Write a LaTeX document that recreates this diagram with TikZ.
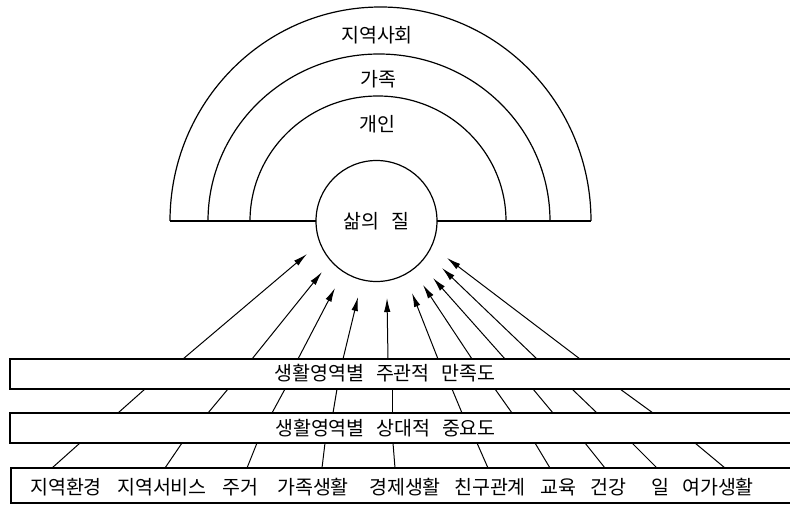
\documentclass[tikz,border=0pt]{standalone}
\usepackage{fontspec}
\newfontfamily\kr{Noto Sans CJK KR}
\usetikzlibrary{arrows.meta}
\begin{document}
\begin{tikzpicture}[x=1pt,y=1pt,
  every node/.style={font=\kr\fontsize{19.5}{21}\selectfont, inner sep=0pt, outer sep=0pt},
  ln/.style={line width=1pt},
  arcline/.style={line width=1.2pt},
  barbox/.style={draw, line width=1.1pt, anchor=south west, minimum width=800pt},
  arr/.style={line width=1pt, -{Latex[length=14pt,width=6.5pt]}}]
\useasboundingbox (0,0) rectangle (790,504);
% rings
\draw[arcline] (170,283) arc[start angle=180, end angle=0, x radius=210.5, y radius=214];
\draw[arcline] (208,283) arc[start angle=180, end angle=0, x radius=171, y radius=167];
\draw[arcline] (250,283) arc[start angle=180, end angle=0, x radius=128, y radius=125];
\node[draw, circle, line width=1.2pt, minimum size=121pt] (q) at (376.5,283) {삶의\hspace{0.6em}질};
\draw[arcline] (170,283) -- (q.west);
\draw[arcline] (q.east) -- (591,283);
\node (l1) at (377,469) {지역사회};
\node (l2) at (378,425) {가족};
\node (l3) at (377,380) {개인};
% bars
\node[barbox, minimum height=30pt] (b1) at (10,115) {};
\node[barbox, minimum height=30pt] (b2) at (10,61) {};
\node[barbox, minimum height=35pt] (b3) at (11,1) {};
\node (t1) at (385,131) {생활영역별\hspace{0.6em}주관적\hspace{0.6em}만족도};
\node (t2) at (385.5,76) {생활영역별\hspace{0.6em}상대적\hspace{0.6em}중요도};
% domain words
\foreach \w/\x [count=\i] in {지역환경/66, 지역서비스/162, 주거/240, 가족생활/313, 경제생활/405, 친구관계/490, 교육/558, 건강/608, 일/660, 여가생활/718}
  \node (w\i) at (\x,17) {\w};
% lower segments (bar3 -> bar2)
\foreach \a/\b in {52/80, 165/182, 247/257, 322/325, 395/393, 488/477, 550/535, 605/585, 657/632, 725/695}
  \draw[ln] ([xshift={\a-11}]b3.north west) -- ([xshift={\b-10}]b2.south west);
% middle segments (bar2 -> bar1)
\foreach \a/\b in {118/145, 208/228, 272/285, 333/337, 392/392, 462/452, 512/495, 553/533, 597/572, 653/620}
  \draw[ln] ([xshift={\a-10}]b2.north west) -- ([xshift={\b-10}]b1.south west);
% arrows to quality of life
\foreach \a/\tx/\ty [count=\i] in {183/307/250, 252/322/232, 298/335/216, 343/358/207, 388/387/206, 438/412/211, 472/423/219, 505/433/226, 537/442/236, 580/447/246}{
  \coordinate (p\i) at (\tx,\ty);
  \draw[arr] ([xshift={\a-10}]b1.north west) -- (p\i);
}
\end{tikzpicture}
\end{document}
